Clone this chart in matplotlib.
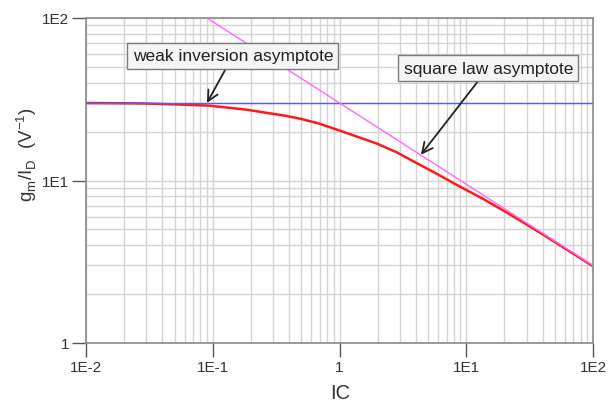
import matplotlib
matplotlib.use('Agg')
import matplotlib.pyplot as plt
from matplotlib.ticker import LogLocator, NullFormatter, FixedLocator

plt.rcParams['font.family'] = ['Liberation Sans', 'DejaVu Sans']

# data
ic_red = [0.01, 0.028, 0.05, 0.093, 0.183, 0.378, 0.5, 0.69, 1.0, 1.96, 2.83,
          4.06, 5.85, 8.41, 13.6, 20.9, 30, 43.1, 100]
gm_red = [30.0, 29.8, 29.4, 28.9, 27.3, 25.0, 23.9, 22.4, 20.3, 16.9, 14.9,
          12.8, 11.0, 9.4, 7.7, 6.35, 5.36, 4.5, 2.97]
ic_weak = [0.01, 100]
gm_weak = [30, 30]
ic_strong = [0.09, 100]
gm_strong = [100, 3.0]
xticks = [0.01, 0.1, 1, 10, 100]
xlabels = ['1E-2', '1E-1', '1', '1E1', '1E2']
yticks = [1, 10, 100]
ylabels = ['1', '1E1', '1E2']

fig = plt.figure(figsize=(6.14, 4.02), dpi=100)
ax = fig.add_axes([86/614, 1 - 344/402, 507/614, 325/402])

ax.set_xscale('log')
ax.set_yscale('log')
ax.set_xlim(0.01, 100)
ax.set_ylim(1, 100)

ax.plot(ic_weak, gm_weak, color='#5a5aff', lw=1.0, zorder=3)
ax.plot(ic_strong, gm_strong, color='#ff66ff', lw=1.0, zorder=3)
ax.plot(ic_red, gm_red, color='#ff1a1a', lw=1.8, zorder=2)

ax.xaxis.set_major_locator(FixedLocator(xticks))
ax.set_xticklabels(xlabels)
ax.yaxis.set_major_locator(FixedLocator(yticks))
ax.set_yticklabels(ylabels)
ax.xaxis.set_minor_locator(LogLocator(base=10, subs=range(2, 10)))
ax.yaxis.set_minor_locator(LogLocator(base=10, subs=range(2, 10)))
ax.xaxis.set_minor_formatter(NullFormatter())
ax.yaxis.set_minor_formatter(NullFormatter())
ax.tick_params(which='minor', length=0)
ax.tick_params(which='major', length=10, width=1.0, direction='out', color='#555555',
               labelsize=11, labelcolor='#333333', pad=2)
ax.grid(which='both', color='#d4d4d4', lw=1.0, zorder=0)
ax.set_axisbelow(True)
for s in ax.spines.values():
    s.set_color('#8a8a8a')
    s.set_linewidth(1.2)

fig.text(340/614, 1 - 394/402, 'IC', fontsize=14.5, color='#333333',
         ha='center', va='center')
fig.text(27/614, 1 - 155/402,
         r'g$_\mathregular{m}$/I$_\mathregular{D}$  (V$^\mathregular{-1}$)',
         fontsize=13.5, color='#333333', rotation=90, ha='center', va='center')

box = dict(boxstyle='square,pad=0.3', fc='#f5f5f5', ec='#7a7a7a', lw=1.0)
arrow = dict(arrowstyle='->,head_length=0.6,head_width=0.3', color='#222222',
             lw=1.3, shrinkA=0, shrinkB=0)
ax.annotate('weak inversion asymptote', xy=(0.09, 30), xytext=(0.144, 58.4),
            textcoords='data', fontsize=12.5, color='#222222',
            ha='center', va='center', bbox=box, arrowprops=arrow, zorder=5)
ax.annotate('square law asymptote', xy=(4.39, 14.4), xytext=(14.9, 49.2),
            textcoords='data', fontsize=12.5, color='#222222',
            ha='center', va='center', bbox=box, arrowprops=arrow, zorder=5)

fig.savefig('out.png', dpi=100)
